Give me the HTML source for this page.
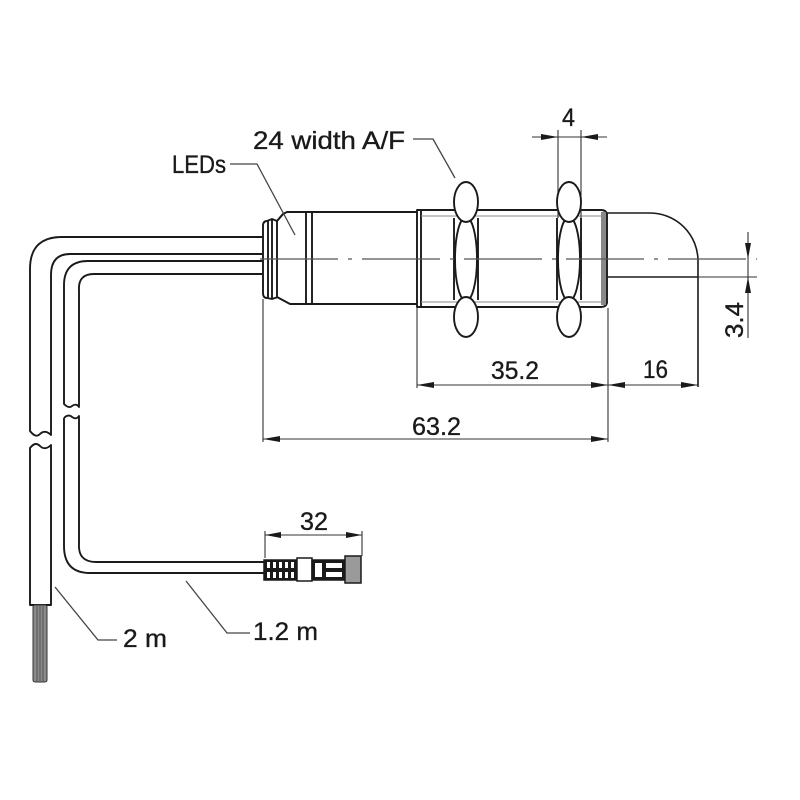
<!DOCTYPE html>
<html><head><meta charset="utf-8"><style>html,body{margin:0;padding:0;background:#fff}svg{display:block}</style></head>
<body>
<svg width="800" height="800" viewBox="0 0 800 800" xmlns="http://www.w3.org/2000/svg">
<rect width="800" height="800" fill="#fff"/>

<!-- Cables left -->
<g fill="none" stroke="#1a1a1a" stroke-width="1.9" stroke-linejoin="round">
  <path d="M263,237 H62 Q30,237 30,269 V431 c4,5 7,6 10,3 c3,-3 7,-3 11,1 V275 Q51,254 70,254 H263"/>
  <path d="M30,605 V448 c4,-5 7,-5 10,-2 c3,3 7,3 11,-1 V605 Z"/>
  <path d="M263,261 H88 Q64,261 64,285 V404 c3,3 6,4 8,2 c3,-2 5,-2 7,1 V290 Q78,274 94,274 H263"/>
  <path d="M64,418 c3,-3 6,-3 8,-1 c3,2 5,2 7,-1 V544 Q78,562 96,562 H264"/>
  <path d="M64,418 V546 Q64,573 90,573 H264"/>
</g>
<rect x="33" y="605" width="14" height="77" rx="2" fill="#8a8a8a" stroke="#333" stroke-width="1"/>
<g stroke="#555" stroke-width="1"><line x1="37" y1="606" x2="37" y2="681"/><line x1="40" y1="606" x2="40" y2="681"/><line x1="43" y1="606" x2="43" y2="681"/></g>

<!-- Sensor body -->
<g fill="none" stroke="#1a1a1a" stroke-width="1.9" stroke-linejoin="round">
  <path d="M283,214 L277,221 L272,219 L267,221 Q263,221 263,226 V293 Q263,298 267,298 L272,299 L278,297"/>
  <line x1="268" y1="221" x2="268" y2="298"/>
  <line x1="272" y1="219" x2="272" y2="299"/>
  <line x1="277" y1="221" x2="277" y2="297"/>
  <path d="M277,221 L283,214 L287,212 H417"/>
  <path d="M277,297 L290,304 H417"/>
  <line x1="306" y1="212" x2="306" y2="304"/>
  <line x1="312" y1="212" x2="312" y2="304"/>
  <path d="M417,210 H601 Q606,210 607,214 V303 Q606,307 601,307 H417 Z"/>
  <line x1="421" y1="210" x2="421" y2="307"/>
  <path d="M607,213 H650 A48,48 0 0 1 698,261 V387" stroke-width="1.6"/>
  <path d="M607,277 H698" stroke-width="1.6"/>
</g>
<rect x="601" y="212" width="5" height="93" fill="#888"/>
<g stroke="#888" stroke-width="1"><line x1="421" y1="216" x2="601" y2="216"/><line x1="421" y1="302" x2="601" y2="302"/></g>
<line x1="698" y1="277" x2="757" y2="277" stroke="#333" stroke-width="1.1"/>

<g stroke="#333" stroke-width="1.1"><line x1="558" y1="130" x2="558" y2="300"/><line x1="581" y1="130" x2="581" y2="300"/></g>

<!-- Nuts -->
<g fill="#fff" stroke="#1a1a1a" stroke-width="1.9">
  <rect x="454" y="218" width="24" height="82" stroke="none"/>
  <line x1="454" y1="218" x2="454" y2="300"/><line x1="478" y1="218" x2="478" y2="300"/>
  <ellipse cx="466" cy="259" rx="11" ry="42"/>
  <ellipse cx="466" cy="202" rx="12" ry="20"/>
  <ellipse cx="466" cy="317" rx="12" ry="20"/>
  <rect x="557" y="218" width="24" height="82" stroke="none"/>
  <line x1="557" y1="218" x2="557" y2="300"/><line x1="581" y1="218" x2="581" y2="300"/>
  <ellipse cx="569" cy="259" rx="11" ry="42"/>
  <ellipse cx="569" cy="202" rx="12" ry="20"/>
  <ellipse cx="569" cy="317" rx="12" ry="20"/>
</g>

<line x1="260" y1="259" x2="757" y2="259" stroke="#555" stroke-width="1.2" stroke-dasharray="78 10 4 10"/>

<!-- Connector -->
<g stroke="#1a1a1a" stroke-width="1.5">
  <rect x="264" y="560" width="33" height="20" fill="#fff"/>
  <g fill="#1a1a1a" stroke="none">
    <rect x="264" y="560" width="3" height="20"/><rect x="270" y="560" width="3" height="20"/>
    <rect x="276" y="560" width="3" height="20"/><rect x="282" y="560" width="3" height="20"/>
    <rect x="288" y="560" width="3" height="20"/><rect x="294" y="560" width="3" height="20"/>
    <rect x="264" y="568" width="33" height="4"/>
    <rect x="264" y="560" width="33" height="2"/><rect x="264" y="578" width="33" height="2"/>
  </g>
  <rect x="297" y="558" width="15" height="23" fill="#fff"/>
  <rect x="312" y="560" width="33" height="20" fill="#1a1a1a"/>
  <g fill="#fff" stroke="none">
    <rect x="315" y="563" width="7" height="14"/>
    <rect x="326" y="563" width="16" height="5"/>
    <rect x="326" y="572" width="16" height="5"/>
  </g>
  <rect x="345" y="556" width="16" height="27" fill="#9a9a9a"/>
</g>

<!-- Dimension lines -->
<g stroke="#333" stroke-width="1.1" fill="none">
  <line x1="532" y1="137" x2="607" y2="137"/>
  <line x1="748" y1="232" x2="748" y2="338"/>
  <line x1="417" y1="308" x2="417" y2="388"/>
  <line x1="608" y1="308" x2="608" y2="442"/>
  <line x1="263" y1="299" x2="263" y2="442"/>
  <line x1="417" y1="385" x2="698" y2="385"/>
  <line x1="263" y1="439" x2="608" y2="439"/>
  <line x1="265" y1="531" x2="265" y2="558"/>
  <line x1="362" y1="531" x2="362" y2="556"/>
  <line x1="265" y1="535" x2="362" y2="535"/>
</g>
<g fill="#1a1a1a">
  <polygon points="558,137 541,134 541,140"/>
  <polygon points="581,137 598,134 598,140"/>
  <polygon points="748,259 745,243 751,243"/>
  <polygon points="748,277 745,293 751,293"/>
  <polygon points="417,385 434,382 434,388"/>
  <polygon points="608,385 591,382 591,388"/>
  <polygon points="608,385 625,382 625,388"/>
  <polygon points="698,385 681,382 681,388"/>
  <polygon points="263,439 280,436 280,442"/>
  <polygon points="608,439 591,436 591,442"/>
  <polygon points="265,535 281,532 281,538"/>
  <polygon points="362,535 346,532 346,538"/>
</g>

<!-- Leaders -->
<g stroke="#444" stroke-width="1.3" fill="none">
  <path d="M230,164 H257 L295,235"/>
  <path d="M413,139 H433 L455,178"/>
  <path d="M55,587 L98,640 H117"/>
  <path d="M186,581 L227,633 H250"/>
</g>

<!-- Text -->
<g font-family="'Liberation Sans', 'DejaVu Sans', sans-serif" font-size="25" fill="#1a1a1a" stroke="#1a1a1a" stroke-width="0.35">
  <text x="172" y="173" textLength="54" lengthAdjust="spacingAndGlyphs">LEDs</text>
  <text x="253" y="149" textLength="152" lengthAdjust="spacingAndGlyphs">24 width A/F</text>
  <text x="562" y="126" textLength="13" lengthAdjust="spacingAndGlyphs">4</text>
  <text x="491" y="379" textLength="48" lengthAdjust="spacingAndGlyphs">35.2</text>
  <text x="643" y="378" textLength="25" lengthAdjust="spacingAndGlyphs">16</text>
  <text x="412" y="435" textLength="49" lengthAdjust="spacingAndGlyphs">63.2</text>
  <text x="300" y="530" textLength="28" lengthAdjust="spacingAndGlyphs">32</text>
  <text x="123" y="647" textLength="44" lengthAdjust="spacingAndGlyphs">2 m</text>
  <text x="253" y="640" textLength="65" lengthAdjust="spacingAndGlyphs">1.2 m</text>
  <text x="0" y="0" transform="translate(743,338) rotate(-90)" textLength="36" lengthAdjust="spacingAndGlyphs">3.4</text>
</g>
</svg>
</body></html>
